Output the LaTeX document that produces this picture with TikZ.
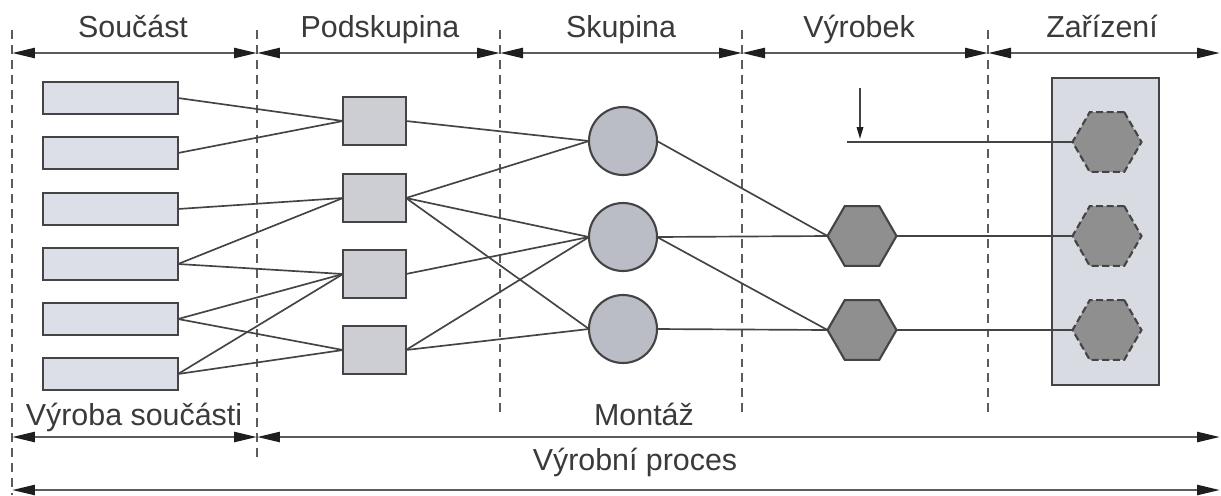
\documentclass[tikz,border=0pt]{standalone}
\usepackage{fontspec}
\setmainfont{Liberation Sans}
\usetikzlibrary{shapes.geometric,arrows.meta}
\definecolor{lc}{HTML}{444444}
\definecolor{dimc}{HTML}{5C5C5C}
\definecolor{txt}{HTML}{3A3A3A}
\definecolor{rectfill}{HTML}{DCDFE8}
\definecolor{sqfill}{HTML}{CDCED3}
\definecolor{circfill}{HTML}{BABDC5}
\definecolor{hexfill}{HTML}{8F8F90}
\definecolor{boxfill}{HTML}{D9DBE3}
\definecolor{tipc}{HTML}{1E1E1E}
\tikzset{
  part/.style={draw=lc, line width=1.2pt, fill=rectfill, minimum width=2.7cm, minimum height=0.64cm, inner sep=0pt, outer sep=0pt},
  subgrp/.style={draw=lc, line width=1.2pt, fill=sqfill, minimum width=1.26cm, minimum height=0.96cm, inner sep=0pt, outer sep=0pt},
  grp/.style={circle, draw=lc, line width=1.2pt, fill=circfill, minimum size=1.36cm, inner sep=0pt, outer sep=0pt},
  prod/.style={regular polygon, regular polygon sides=6, draw=lc, line width=1.2pt, fill=hexfill, minimum size=1.38cm, inner sep=0pt, outer sep=0pt},
  dprod/.style={prod, dashed, dash pattern=on 4pt off 2pt},
  conn/.style={draw=lc, line width=0.95pt},
  sep/.style={draw=dimc, line width=1.2pt, dash pattern=on 5pt off 3.5pt},
  dimline/.style={draw=dimc, line width=1.4pt},
  tip/.tip={Triangle[length=0.46cm,width=0.2cm,color=tipc]},
  lab/.style={font=\fontsize{17.3}{20}\selectfont, text=txt, anchor=base, inner sep=0pt},
}
\begin{document}
\begin{tikzpicture}[x=0.02cm,y=-0.02cm]
\useasboundingbox[fill=white] (0,0) rectangle (1221,495);

% separators
\draw[sep] (12,30) -- (12,495);
\draw[sep] (257,30) -- (257,460);
\draw[sep] (500,30) -- (500,415);
\draw[sep] (742,30) -- (742,415);
\draw[sep] (988,30) -- (988,415);

% top dimension coordinates
\coordinate (t0) at (12,53);
\coordinate (t1) at (257,53);
\coordinate (t2) at (500,53);
\coordinate (t3) at (742,53);
\coordinate (t4) at (988,53);
\coordinate (t5) at (1220,53);
\draw[dimline, tip-tip] (t0) -- (t1);
\draw[dimline, tip-tip] (t1) -- (t2);
\draw[dimline, tip-tip] (t2) -- (t3);
\draw[dimline, tip-tip] (t3) -- (t4);
\draw[dimline, tip-tip] (t4) -- (t5);

\node[lab] (lsoucast) at (133,37) {Součást};
\node[lab] (lpodsk) at (380,37) {Podskupina};
\node[lab] (lskup) at (621,37) {Skupina};
\node[lab] (lvyrobek) at (859,37) {Výrobek};
\node[lab] (lzariz) at (1102,37) {Zařízení};

% bottom dimensions
\coordinate (b0) at (12,437);
\coordinate (b1) at (257,437);
\coordinate (b2) at (1220,437);
\coordinate (c0) at (12,490);
\coordinate (c1) at (1220,490);
\draw[dimline, tip-tip] (b0) -- (b1);
\draw[dimline, tip-tip] (b1) -- (b2);
\draw[dimline, tip-tip] (c0) -- (c1);
\node[lab] (lvyroba) at (134,425) {Výroba součásti};
\node[lab] (lmontaz) at (644,425) {Montáž};
\node[lab] (lproces) at (635,470) {Výrobní proces};

% equipment box
\node[draw=lc, line width=1.2pt, fill=boxfill, minimum width=2.14cm, minimum height=6.14cm, inner sep=0pt] (box) at (1105.5,231.5) {};

% parts
\node[part] (r1) at (110.5,98) {};
\node[part] (r2) at (110.5,153) {};
\node[part] (r3) at (110.5,209) {};
\node[part] (r4) at (110.5,264) {};
\node[part] (r5) at (110.5,319) {};
\node[part] (r6) at (110.5,374) {};

% subgroups
\node[subgrp] (s1) at (374.5,121) {};
\node[subgrp] (s2) at (374.5,198) {};
\node[subgrp] (s3) at (374.5,274) {};
\node[subgrp] (s4) at (374.5,350) {};

% groups
\node[grp] (c1) at (623,141) {};
\node[grp] (c2) at (623,237) {};
\node[grp] (c3) at (623,329) {};

% products
\node[prod] (h1) at (862,236) {};
\node[prod] (h2) at (862,330) {};

% equipment items
\node[dprod] (d1) at (1107,142) {};
\node[dprod] (d2) at (1107,236) {};
\node[dprod] (d3) at (1107,330) {};

% connections parts -> subgroups
\draw[conn] (r1.east) -- (s1.west);
\draw[conn] (r2.east) -- (s1.west);
\draw[conn] (r3.east) -- (s2.west);
\draw[conn] (r4.east) -- (s2.west);
\draw[conn] (r4.east) -- (s3.west);
\draw[conn] (r5.east) -- (s3.west);
\draw[conn] (r5.east) -- (s4.west);
\draw[conn] (r6.east) -- (s3.west);
\draw[conn] (r6.east) -- (s4.west);

% subgroups -> groups
\draw[conn] (s1.east) -- (c1.west);
\draw[conn] (s2.east) -- (c1.west);
\draw[conn] (s2.east) -- (c2.west);
\draw[conn] (s2.east) -- (c3.west);
\draw[conn] (s3.east) -- (c2.west);
\draw[conn] (s4.east) -- (c2.west);
\draw[conn] (s4.east) -- (c3.west);

% groups -> products
\draw[conn] (c1.east) -- (h1.corner 3);
\draw[conn] (c2.east) -- (h1.corner 3);
\draw[conn] (c2.east) -- (h2.corner 3);
\draw[conn] (c3.east) -- (h2.corner 3);

% products -> equipment
\draw[conn] (h1.corner 6) -- (d2.corner 3);
\draw[conn] (h2.corner 6) -- (d3.corner 3);
\coordinate (feedstart) at (847,142);
\draw[conn] (feedstart) -- (d1.corner 3);
\coordinate (arrtop) at (860,88);
\coordinate (arrbot) at (860,139);
\draw[conn, -{Triangle[length=0.24cm,width=0.13cm,color=tipc]}] (arrtop) -- (arrbot);
\end{tikzpicture}
\end{document}
